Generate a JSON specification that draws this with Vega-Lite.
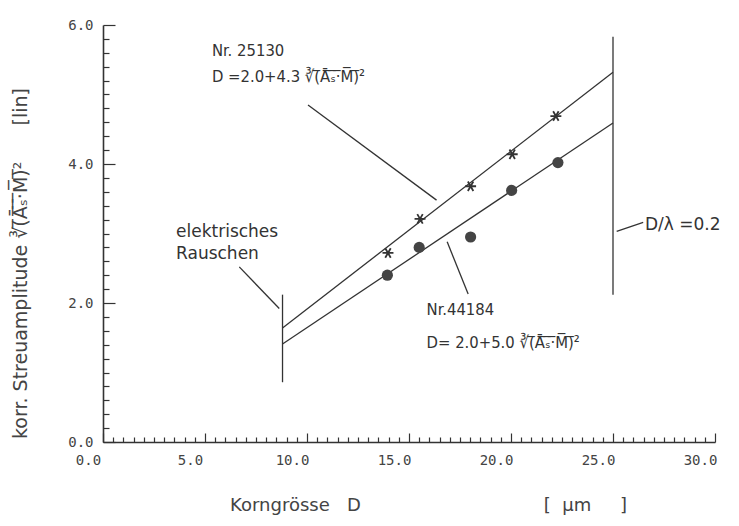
{
  "$schema": "https://vega.github.io/schema/vega-lite/v6.json",
  "autosize": "none",
  "width": 612,
  "height": 417,
  "padding": {"left": 103, "top": 25, "right": 24, "bottom": 84},
  "background": "white",
  "config": {"view": {"stroke": null}},
  "datasets": {
    "points": [
      {"sample": "Nr. 25130", "D": 13.97, "A": 2.72},
      {"sample": "Nr. 25130", "D": 15.54, "A": 3.21},
      {"sample": "Nr. 25130", "D": 18.02, "A": 3.68},
      {"sample": "Nr. 25130", "D": 20.06, "A": 4.14},
      {"sample": "Nr. 25130", "D": 22.2, "A": 4.69},
      {"sample": "Nr. 44184", "D": 13.94, "A": 2.40},
      {"sample": "Nr. 44184", "D": 15.5, "A": 2.80},
      {"sample": "Nr. 44184", "D": 18.02, "A": 2.95},
      {"sample": "Nr. 44184", "D": 20.03, "A": 3.62},
      {"sample": "Nr. 44184", "D": 22.3, "A": 4.02}
    ],
    "segments": [
      {"id": "fit25130", "ord": 0, "D": 8.8, "A": 1.64},
      {"id": "fit25130", "ord": 1, "D": 25, "A": 5.32},
      {"id": "fit44184", "ord": 0, "D": 8.8, "A": 1.41},
      {"id": "fit44184", "ord": 1, "D": 25, "A": 4.59},
      {"id": "noise", "ord": 0, "D": 8.8, "A": 0.86},
      {"id": "noise", "ord": 1, "D": 8.8, "A": 2.12},
      {"id": "dlambda", "ord": 0, "D": 25, "A": 2.12},
      {"id": "dlambda", "ord": 1, "D": 25, "A": 5.83},
      {"id": "lead1", "ord": 0, "D": 10.05, "A": 4.85},
      {"id": "lead1", "ord": 1, "D": 16.35, "A": 3.48},
      {"id": "lead2", "ord": 0, "D": 16.87, "A": 2.88},
      {"id": "lead2", "ord": 1, "D": 17.9, "A": 2.13},
      {"id": "lead3", "ord": 0, "D": 6.68, "A": 2.52},
      {"id": "lead3", "ord": 1, "D": 8.64, "A": 1.92},
      {"id": "lead4", "ord": 0, "D": 25.18, "A": 3.03},
      {"id": "lead4", "ord": 1, "D": 26.48, "A": 3.16}
    ],
    "labels": [
      {"group": "formula", "text": "Nr. 25130", "D": 5.34, "A": 5.63},
      {"group": "formula", "text": "D =2.0+4.3 ∛(̅Ā̅ₛ̅·̅M̅)̅²", "D": 5.34, "A": 5.25},
      {"group": "note", "text": "elektrisches", "D": 3.58, "A": 3.02},
      {"group": "note", "text": "Rauschen", "D": 3.58, "A": 2.71},
      {"group": "formula", "text": "Nr.44184", "D": 15.86, "A": 1.90},
      {"group": "formula", "text": "D= 2.0+5.0 ∛(̅Ā̅ₛ̅·̅M̅)̅²", "D": 15.86, "A": 1.42},
      {"group": "note", "text": "D/λ =0.2", "D": 26.57, "A": 3.12}
    ]
  },
  "layer": [
    {
      "data": {"name": "segments"},
      "mark": {"type": "line", "color": "#333", "strokeWidth": 1.3, "clip": false},
      "encoding": {
        "x": {
          "field": "D", "type": "quantitative",
          "scale": {"domain": [0, 30], "nice": false, "zero": false},
          "axis": {
            "values": [0,0.5,1,1.5,2,2.5,3,3.5,4,4.5,5,5.5,6,6.5,7,7.5,8,8.5,9,9.5,10,10.5,11,11.5,12,12.5,13,13.5,14,14.5,15,15.5,16,16.5,17,17.5,18,18.5,19,19.5,20,20.5,21,21.5,22,22.5,23,23.5,24,24.5,25,25.5,26,26.5,27,27.5,28,28.5,29,29.5,30],
            "tickCount": 200,
            "labelExpr": "datum.value % 5 === 0 ? format(datum.value, '.1f') : ''",
            "grid": false,
            "domainColor": "#333",
            "domainWidth": 1.6,
            "tickColor": "#333",
            "tickWidth": 1.2,
            "tickSize": {"condition": {"test": "datum.value % 5 === 0", "value": -9}, "value": -5},
            "labelPadding": 20,
            "labelOffset": -15,
            "labelFont": "DejaVu Sans Mono",
            "labelFontSize": 14,
            "labelColor": "#444",
            "labelFlush": false,
            "labelOverlap": false,
            "title": "Korngrösse\u00a0\u00a0\u00a0D\u00a0\u00a0\u00a0\u00a0\u00a0\u00a0\u00a0\u00a0\u00a0\u00a0\u00a0\u00a0\u00a0\u00a0\u00a0\u00a0\u00a0\u00a0\u00a0\u00a0\u00a0\u00a0\u00a0\u00a0\u00a0\u00a0\u00a0\u00a0\u00a0\u00a0\u00a0\u00a0[\u00a0\u00a0μm\u00a0\u00a0\u00a0\u00a0\u00a0]",
            "titleFont": "DejaVu Sans",
            "titleFontSize": 18,
            "titleFontWeight": "normal",
            "titleColor": "#444",
            "titleX": 325,
            "titleY": 63,
            "titleBaseline": "middle"
          }
        },
        "y": {
          "field": "A", "type": "quantitative",
          "scale": {"domain": [0, 6], "nice": false},
          "axis": {
            "values": [0,0.2,0.4,0.6,0.8,1,1.2,1.4,1.6,1.8,2,2.2,2.4,2.6,2.8,3,3.2,3.4,3.6,3.8,4,4.2,4.4,4.6,4.8,5,5.2,5.4,5.6,5.8,6],
            "tickCount": 200,
            "labelExpr": "abs(datum.value - round(datum.value / 2) * 2) < 0.01 ? format(datum.value, '.1f') : ''",
            "grid": false,
            "domainColor": "#333",
            "domainWidth": 1.6,
            "tickColor": "#333",
            "tickWidth": 1.2,
            "tickSize": {"condition": {"test": "abs(datum.value - round(datum.value / 2) * 2) < 0.01", "value": -12}, "value": -6},
            "labelPadding": 22,
            "labelFont": "DejaVu Sans Mono",
            "labelFontSize": 14,
            "labelColor": "#444",
            "labelFlush": false,
            "labelOverlap": false,
            "title": "korr. Streuamplitude ∛(̅Ā̅ₛ̅·̅M̅)̅²\u00a0\u00a0\u00a0\u00a0\u00a0\u00a0[lin]",
            "titleFont": "DejaVu Sans",
            "titleFontSize": 19,
            "titleFontWeight": "normal",
            "titleColor": "#444",
            "titleX": -83,
            "titleY": 238,
            "titleAngle": -90,
            "titleAlign": "center",
            "titleBaseline": "middle"
          }
        },
        "detail": {"field": "id"},
        "order": {"field": "ord"}
      }
    },
    {
      "data": {"name": "points"},
      "transform": [{"filter": "datum.sample === 'Nr. 25130'"}],
      "mark": {"type": "point", "shape": "M -1 0 L 1 0 M -0.5 -0.866 L 0.5 0.866 M -0.5 0.866 L 0.5 -0.866", "filled": false, "color": "#333", "strokeWidth": 1.8, "size": 120, "opacity": 1},
      "encoding": {
        "x": {"field": "D", "type": "quantitative"},
        "y": {"field": "A", "type": "quantitative"}
      }
    },
    {
      "data": {"name": "points"},
      "transform": [{"filter": "datum.sample === 'Nr. 44184'"}],
      "mark": {"type": "circle", "color": "#444", "size": 125, "opacity": 1},
      "encoding": {
        "x": {"field": "D", "type": "quantitative"},
        "y": {"field": "A", "type": "quantitative"}
      }
    },
    {
      "data": {"name": "labels"},
      "transform": [{"filter": "datum.group === 'formula'"}],
      "mark": {"type": "text", "align": "left", "baseline": "middle", "font": "DejaVu Sans Condensed, DejaVu Sans, sans-serif", "fontSize": 16.5, "color": "#333", "clip": false},
      "encoding": {
        "x": {"field": "D", "type": "quantitative"},
        "y": {"field": "A", "type": "quantitative"},
        "text": {"field": "text"}
      }
    },
    {
      "data": {"name": "labels"},
      "transform": [{"filter": "datum.group === 'note'"}],
      "mark": {"type": "text", "align": "left", "baseline": "middle", "font": "DejaVu Sans", "fontSize": 17, "color": "#333", "clip": false},
      "encoding": {
        "x": {"field": "D", "type": "quantitative"},
        "y": {"field": "A", "type": "quantitative"},
        "text": {"field": "text"}
      }
    }
  ]
}
